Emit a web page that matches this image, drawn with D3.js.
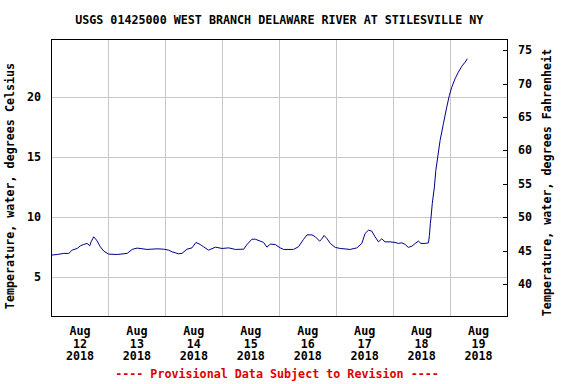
<!DOCTYPE html>
<html><head><meta charset="utf-8">
<script src="https://cdn.jsdelivr.net/npm/d3@7"></script>
<style>
html,body{margin:0;padding:0;background:#fff;}
svg{display:block;}
text{font-family:"DejaVu Sans Mono",monospace;font-weight:bold;font-size:11.7px;fill:#000;}
</style></head>
<body>
<svg id="c" width="576" height="384"></svg>
<script>
const title = "USGS 01425000 WEST BRANCH DELAWARE RIVER AT STILESVILLE NY";
const yLabelLeft = "Temperature, water, degrees Celsius";
const yLabelRight = "Temperature, water, degrees Fahrenheit";
const footer = "---- Provisional Data Subject to Revision ----";
const startDate = "2018-08-12T00:00:00Z";
const dayLabels = ["12","13","14","15","16","17","18","19"];
const celsiusTicks = [5, 10, 15, 20];
const fahrenheitTicks = [40, 45, 50, 55, 60, 65, 70, 75];
// hours since Aug 12 00:00
const hours = [0,2.4,5.2,7.3,8.7,10.8,12.2,13.6,15.0,16.1,16.7,17.8,19.0,20.6,22.0,24.1,27.7,31.9,34.0,36.1,40.3,44.5,47.3,49.4,50.8,53.6,55.0,57.1,59.2,60.9,62.7,64.1,66.2,69.1,71.9,74.7,77.5,81.0,82.4,84.5,85.9,88.0,89.4,90.8,92.2,94.3,96.4,97.8,102.0,104.1,106.2,107.7,109.8,111.2,113.0,113.8,114.9,116.1,117.5,119.6,121.7,125.9,128.7,130.8,132.2,133.6,135.0,136.4,137.8,139.2,140.6,142.7,144.8,146.2,147.7,149.1,150.4,151.9,153.3,154.7,155.7,157.5,158.9,159.3,159.7,160.0,160.5,161.4,162.0,162.8,163.8,165.2,166.6,167.7,168.7,170.1,171.5,172.9,174.3,175.3];
const tempC = [6.86,6.91,7.0,7.0,7.27,7.41,7.63,7.74,7.83,7.63,7.96,8.38,8.1,7.55,7.19,6.94,6.91,7.0,7.33,7.44,7.33,7.38,7.35,7.27,7.13,6.97,7.0,7.35,7.46,7.91,7.74,7.55,7.27,7.52,7.41,7.46,7.33,7.35,7.74,8.18,8.18,8.02,7.91,7.52,7.77,7.74,7.46,7.33,7.33,7.55,8.16,8.54,8.54,8.38,8.02,8.16,8.49,8.24,7.83,7.5,7.41,7.33,7.46,7.83,8.66,8.93,8.85,8.38,7.96,8.21,7.96,7.96,7.91,7.83,7.88,7.74,7.5,7.6,7.83,8.02,7.83,7.83,7.88,8.5,9.5,10.03,11.14,12.52,13.9,15.0,16.39,17.78,19.15,20.12,20.8,21.5,22.06,22.53,22.88,23.17];

const svg = d3.select("#c");
const L = 51.5, R = 507, T = 39.5, B = 316;
const t0 = new Date(startDate);
const day = 864e5;
const x = d3.scaleUtc().domain([t0, new Date(+t0 + 8*day)]).range([L, R]);
const y = d3.scaleLinear().domain([1.8, 24.77]).range([B, T]);
const yF = d3.scaleLinear().domain([1.8*1.8+32, 24.77*1.8+32]).range([B, T]);

// gridlines
const g = svg.append("g").attr("shape-rendering","crispEdges");
const midnights = d3.range(1,8).map(i => new Date(+t0 + i*day));
g.selectAll(".vg").data(midnights).join("line")
  .attr("x1", d => Math.round(x(d))+0.5).attr("x2", d => Math.round(x(d))+0.5)
  .attr("y1", T).attr("y2", B).attr("stroke","#c8c8c8");
g.selectAll(".hg").data(celsiusTicks).join("line")
  .attr("x1", L).attr("x2", R)
  .attr("y1", d => Math.round(y(d))+0.5).attr("y2", d => Math.round(y(d))+0.5)
  .attr("stroke","#c8c8c8");

// data line
const pts = hours.map((h,i) => [new Date(+t0 + h*36e5), tempC[i]]);
svg.append("path").datum(pts)
  .attr("fill","none").attr("stroke","#00008b").attr("stroke-width",1)
  .attr("d", d3.line().x(d => x(d[0])).y(d => y(d[1])));

// frame
svg.append("rect").attr("x",L).attr("y",T).attr("width",R-L).attr("height",B-T)
  .attr("fill","none").attr("stroke","#000").attr("shape-rendering","crispEdges");

// left axis labels
svg.selectAll(".yl").data(celsiusTicks).join("text")
  .attr("x", 41).attr("y", d => y(d)+4).attr("text-anchor","end").text(d => d);
// right ticks & labels
svg.append("g").attr("shape-rendering","crispEdges").selectAll("line").data(fahrenheitTicks).join("line")
  .attr("x1", R-4).attr("x2", R).attr("y1", d => Math.round(yF(d))+0.5).attr("y2", d => Math.round(yF(d))+0.5)
  .attr("stroke","#000");
svg.selectAll(".yr").data(fahrenheitTicks).join("text")
  .attr("x", 518).attr("y", d => yF(d)+4).attr("text-anchor","start").text(d => d);

// x labels
const noons = dayLabels.map((d,i) => ({d, t: new Date(+t0 + i*day + day/2)}));
const xl = svg.selectAll(".xl").data(noons).join("text").attr("text-anchor","middle");
xl.append("tspan").attr("x", d => x(d.t)).attr("y", 335).text("Aug");
xl.append("tspan").attr("x", d => x(d.t)).attr("y", 347.5).text(d => d.d);
xl.append("tspan").attr("x", d => x(d.t)).attr("y", 360).text("2018");

// title
svg.append("text").attr("x", (L+R)/2).attr("y", 24).attr("text-anchor","middle").text(title);
// axis titles
svg.append("text").attr("transform","translate(14,186) rotate(-90)").attr("text-anchor","middle").text(yLabelLeft);
svg.append("text").attr("transform","translate(551,182.5) rotate(-90)").attr("text-anchor","middle").text(yLabelRight);
// footer
svg.append("text").attr("x", 277).attr("y", 378).attr("text-anchor","middle").style("fill","#dd0000").text(footer);
</script>
</body></html>
